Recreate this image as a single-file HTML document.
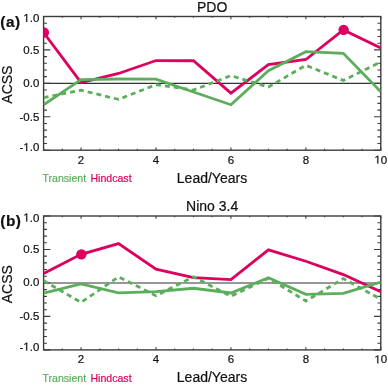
<!DOCTYPE html><html><head><meta charset="utf-8"><style>html,body{margin:0;padding:0;background:#fff;overflow:hidden}svg{display:block;will-change:transform}text{font-family:"Liberation Sans",sans-serif;stroke-width:0.2px}</style></head><body>
<svg width="388" height="386" viewBox="0 0 388 386">
<rect width="388" height="386" fill="#fff"/>
<clipPath id="c0"><rect x="43.6" y="16.5" width="337.2" height="133.7"/></clipPath>
<line x1="43.6" y1="83.35" x2="380.8" y2="83.35" stroke="#333" stroke-width="1.1"/>
<rect x="43.6" y="16.5" width="337.2" height="133.7" fill="none" stroke="#3c3c3c" stroke-width="1.4"/>
<path d="M43.6 150.2h6.74M380.8 150.2h-6.74M43.6 143.51h3.37M380.8 143.51h-3.37M43.6 136.83h3.37M380.8 136.83h-3.37M43.6 130.14h3.37M380.8 130.14h-3.37M43.6 123.46h3.37M380.8 123.46h-3.37M43.6 116.77h6.74M380.8 116.77h-6.74M43.6 110.09h3.37M380.8 110.09h-3.37M43.6 103.41h3.37M380.8 103.41h-3.37M43.6 96.72h3.37M380.8 96.72h-3.37M43.6 90.03h3.37M380.8 90.03h-3.37M43.6 83.35h6.74M380.8 83.35h-6.74M43.6 76.66h3.37M380.8 76.66h-3.37M43.6 69.98h3.37M380.8 69.98h-3.37M43.6 63.29h3.37M380.8 63.29h-3.37M43.6 56.61h3.37M380.8 56.61h-3.37M43.6 49.92h6.74M380.8 49.92h-6.74M43.6 43.24h3.37M380.8 43.24h-3.37M43.6 36.56h3.37M380.8 36.56h-3.37M43.6 29.87h3.37M380.8 29.87h-3.37M43.6 23.19h3.37M380.8 23.19h-3.37M43.6 16.5h6.74M380.8 16.5h-6.74M43.6 150.2v-1.34M43.6 16.5v1.34M62.33 150.2v-1.34M62.33 16.5v1.34M81.07 150.2v-2.67M81.07 16.5v2.67M99.8 150.2v-1.34M99.8 16.5v1.34M118.53 150.2v-1.34M118.53 16.5v1.34M137.27 150.2v-1.34M137.27 16.5v1.34M156 150.2v-2.67M156 16.5v2.67M174.73 150.2v-1.34M174.73 16.5v1.34M193.47 150.2v-1.34M193.47 16.5v1.34M212.2 150.2v-1.34M212.2 16.5v1.34M230.93 150.2v-2.67M230.93 16.5v2.67M249.67 150.2v-1.34M249.67 16.5v1.34M268.4 150.2v-1.34M268.4 16.5v1.34M287.13 150.2v-1.34M287.13 16.5v1.34M305.87 150.2v-2.67M305.87 16.5v2.67M324.6 150.2v-1.34M324.6 16.5v1.34M343.33 150.2v-1.34M343.33 16.5v1.34M362.07 150.2v-1.34M362.07 16.5v1.34M380.8 150.2v-2.67M380.8 16.5v2.67" stroke="#3c3c3c" stroke-width="1.1" fill="none"/>
<g clip-path="url(#c0)" fill="none" stroke-linejoin="miter" stroke-linecap="butt">
<polyline points="43.6,32.54 81.07,82.68 118.53,73.46 156,60.55 193.47,60.75 230.93,93.18 268.4,64.63 305.87,59.48 343.33,29.87 380.8,47.92" stroke="#dc005f" stroke-width="2.8"/>
<circle cx="43.9" cy="32.54" r="5.2" fill="#dc005f" stroke="none"/>
<circle cx="343.63" cy="29.87" r="5.2" fill="#dc005f" stroke="none"/>
<polyline points="43.6,104.74 81.07,79.54 118.53,79 156,79.07 193.47,92.04 230.93,104.74 268.4,70.65 305.87,51.66 343.33,53.27 380.8,91.71" stroke="#5cae5c" stroke-width="2.8"/>
<polyline points="43.6,97.72 81.07,90.17 118.53,99.39 156,84.69 193.47,90.03 230.93,75.66 268.4,87.03 305.87,65.3 343.33,80.41 380.8,61.96" stroke="#5cae5c" stroke-width="2.8" stroke-dasharray="5 4" stroke-dashoffset="0"/>
</g>
<text x="39.3" y="22" font-size="11.5" text-anchor="end" fill="#111" stroke="#111"> .0</text><path transform="translate(23.313 22) scale(0.005615 -0.005615)" d="M515 0V1237L197 1010V1180L530 1409H696V0Z" fill="#111" stroke="#111" stroke-width="35.6"/>
<text x="39.3" y="53.5" font-size="11.5" text-anchor="end" fill="#111" stroke="#111">0.5</text>
<text x="39.3" y="86.8" font-size="11.5" text-anchor="end" fill="#111" stroke="#111">0.0</text>
<text x="39.3" y="120.6" font-size="11.5" text-anchor="end" fill="#111" stroke="#111">-0.5</text>
<text x="39.3" y="151.1" font-size="11.5" text-anchor="end" fill="#111" stroke="#111">- .0</text><path transform="translate(23.313 151.1) scale(0.005615 -0.005615)" d="M515 0V1237L197 1010V1180L530 1409H696V0Z" fill="#111" stroke="#111" stroke-width="35.6"/>
<text x="81.067" y="163.6" font-size="11.5" text-anchor="middle" fill="#111" stroke="#111">2</text>
<text x="156" y="163.6" font-size="11.5" text-anchor="middle" fill="#111" stroke="#111">4</text>
<text x="230.933" y="163.6" font-size="11.5" text-anchor="middle" fill="#111" stroke="#111">6</text>
<text x="305.867" y="163.6" font-size="11.5" text-anchor="middle" fill="#111" stroke="#111">8</text>
<text x="380.8" y="163.6" font-size="11.5" text-anchor="middle" fill="#111" stroke="#111"> 0</text><path transform="translate(374.404 163.6) scale(0.005615 -0.005615)" d="M515 0V1237L197 1010V1180L530 1409H696V0Z" fill="#111" stroke="#111" stroke-width="35.6"/>
<text x="212.2" y="11.6" font-size="14.0" text-anchor="middle" fill="#111" stroke="#111">PDO</text>
<text x="0.3" y="26.6" font-size="15.4" font-weight="bold" letter-spacing="0.5" fill="#111" stroke="#111">(a)</text>
<text transform="translate(12.4 84.65) rotate(-90)" font-size="14.0" text-anchor="middle" fill="#111" stroke="#111">ACSS</text>
<text x="42.4" y="182.2" font-size="10.6" fill="#5cae5c" stroke="#5cae5c">Transient</text>
<text x="90.4" y="182.2" font-size="10.6" fill="#dc005f" stroke="#dc005f">Hindcast</text>
<text x="212" y="183.1" font-size="14.0" text-anchor="middle" fill="#111" stroke="#111">Lead/Years</text>
<clipPath id="c1"><rect x="43.6" y="216" width="337.2" height="133.9"/></clipPath>
<line x1="43.6" y1="282.95" x2="380.8" y2="282.95" stroke="#333" stroke-width="1.1"/>
<rect x="43.6" y="216" width="337.2" height="133.9" fill="none" stroke="#3c3c3c" stroke-width="1.4"/>
<path d="M43.6 349.9h6.74M380.8 349.9h-6.74M43.6 343.2h3.37M380.8 343.2h-3.37M43.6 336.51h3.37M380.8 336.51h-3.37M43.6 329.81h3.37M380.8 329.81h-3.37M43.6 323.12h3.37M380.8 323.12h-3.37M43.6 316.42h6.74M380.8 316.42h-6.74M43.6 309.73h3.37M380.8 309.73h-3.37M43.6 303.03h3.37M380.8 303.03h-3.37M43.6 296.34h3.37M380.8 296.34h-3.37M43.6 289.64h3.37M380.8 289.64h-3.37M43.6 282.95h6.74M380.8 282.95h-6.74M43.6 276.25h3.37M380.8 276.25h-3.37M43.6 269.56h3.37M380.8 269.56h-3.37M43.6 262.87h3.37M380.8 262.87h-3.37M43.6 256.17h3.37M380.8 256.17h-3.37M43.6 249.47h6.74M380.8 249.47h-6.74M43.6 242.78h3.37M380.8 242.78h-3.37M43.6 236.08h3.37M380.8 236.08h-3.37M43.6 229.39h3.37M380.8 229.39h-3.37M43.6 222.69h3.37M380.8 222.69h-3.37M43.6 216h6.74M380.8 216h-6.74M43.6 349.9v-1.34M43.6 216v1.34M62.33 349.9v-1.34M62.33 216v1.34M81.07 349.9v-2.68M81.07 216v2.68M99.8 349.9v-1.34M99.8 216v1.34M118.53 349.9v-1.34M118.53 216v1.34M137.27 349.9v-1.34M137.27 216v1.34M156 349.9v-2.68M156 216v2.68M174.73 349.9v-1.34M174.73 216v1.34M193.47 349.9v-1.34M193.47 216v1.34M212.2 349.9v-1.34M212.2 216v1.34M230.93 349.9v-2.68M230.93 216v2.68M249.67 349.9v-1.34M249.67 216v1.34M268.4 349.9v-1.34M268.4 216v1.34M287.13 349.9v-1.34M287.13 216v1.34M305.87 349.9v-2.68M305.87 216v2.68M324.6 349.9v-1.34M324.6 216v1.34M343.33 349.9v-1.34M343.33 216v1.34M362.07 349.9v-1.34M362.07 216v1.34M380.8 349.9v-2.68M380.8 216v2.68" stroke="#3c3c3c" stroke-width="1.1" fill="none"/>
<g clip-path="url(#c1)" fill="none" stroke-linejoin="miter" stroke-linecap="butt">
<polyline points="43.6,273.58 81.07,254.36 118.53,243.58 156,269.16 193.47,277.66 230.93,279.6 268.4,249.81 305.87,261.26 343.33,274.58 380.8,291.72" stroke="#dc005f" stroke-width="2.8"/>
<circle cx="81.37" cy="254.36" r="5.2" fill="#dc005f" stroke="none"/>
<polyline points="43.6,293.13 81.07,283.82 118.53,292.86 156,291.65 193.47,288.24 230.93,292.99 268.4,277.79 305.87,294.33 343.33,293.33 380.8,282.01" stroke="#5cae5c" stroke-width="2.8"/>
<polyline points="43.6,280.67 81.07,302.37 118.53,276.92 156,295.67 193.47,276.79 230.93,296.34 268.4,278.26 305.87,301.03 343.33,278.6 380.8,299.22" stroke="#5cae5c" stroke-width="2.8" stroke-dasharray="5 4" stroke-dashoffset="0"/>
</g>
<text x="39.3" y="221.5" font-size="11.5" text-anchor="end" fill="#111" stroke="#111"> .0</text><path transform="translate(23.313 221.5) scale(0.005615 -0.005615)" d="M515 0V1237L197 1010V1180L530 1409H696V0Z" fill="#111" stroke="#111" stroke-width="35.6"/>
<text x="39.3" y="253" font-size="11.5" text-anchor="end" fill="#111" stroke="#111">0.5</text>
<text x="39.3" y="286.3" font-size="11.5" text-anchor="end" fill="#111" stroke="#111">0.0</text>
<text x="39.3" y="320.1" font-size="11.5" text-anchor="end" fill="#111" stroke="#111">-0.5</text>
<text x="39.3" y="350.6" font-size="11.5" text-anchor="end" fill="#111" stroke="#111">- .0</text><path transform="translate(23.313 350.6) scale(0.005615 -0.005615)" d="M515 0V1237L197 1010V1180L530 1409H696V0Z" fill="#111" stroke="#111" stroke-width="35.6"/>
<text x="81.067" y="363.3" font-size="11.5" text-anchor="middle" fill="#111" stroke="#111">2</text>
<text x="156" y="363.3" font-size="11.5" text-anchor="middle" fill="#111" stroke="#111">4</text>
<text x="230.933" y="363.3" font-size="11.5" text-anchor="middle" fill="#111" stroke="#111">6</text>
<text x="305.867" y="363.3" font-size="11.5" text-anchor="middle" fill="#111" stroke="#111">8</text>
<text x="380.8" y="363.3" font-size="11.5" text-anchor="middle" fill="#111" stroke="#111"> 0</text><path transform="translate(374.404 363.3) scale(0.005615 -0.005615)" d="M515 0V1237L197 1010V1180L530 1409H696V0Z" fill="#111" stroke="#111" stroke-width="35.6"/>
<text x="212.2" y="211.1" font-size="14.0" text-anchor="middle" fill="#111" stroke="#111">Nino 3.4</text>
<text x="0.3" y="226.1" font-size="15.4" font-weight="bold" letter-spacing="0.5" fill="#111" stroke="#111">(b)</text>
<text transform="translate(12.4 284.25) rotate(-90)" font-size="14.0" text-anchor="middle" fill="#111" stroke="#111">ACSS</text>
<text x="42.4" y="381.9" font-size="10.6" fill="#5cae5c" stroke="#5cae5c">Transient</text>
<text x="90.4" y="381.9" font-size="10.6" fill="#dc005f" stroke="#dc005f">Hindcast</text>
<text x="212" y="382.4" font-size="14.0" text-anchor="middle" fill="#111" stroke="#111">Lead/Years</text>
</svg></body></html>
